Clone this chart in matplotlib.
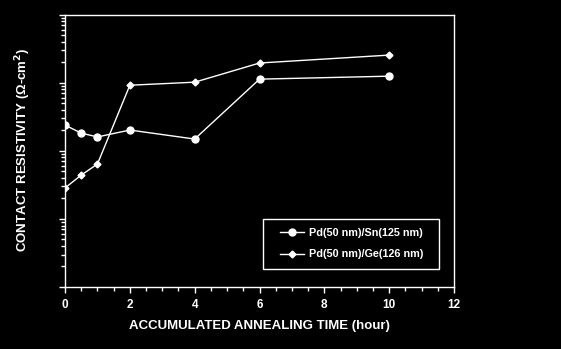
import matplotlib
matplotlib.use("Agg")
import matplotlib.pyplot as plt
from matplotlib.patches import Rectangle
from matplotlib.ticker import MultipleLocator, LogLocator, NullFormatter

plt.rcParams['font.family'] = ['Liberation Sans', 'DejaVu Sans']
plt.rcParams['font.weight'] = 'bold'

# annealing time (hour) and contact resistivity (ohm-cm^2)
hours = [0, 0.5, 1, 2, 4, 6, 10]
rho_sn = [2.39e-5, 1.82e-5, 1.60e-5, 2.02e-5, 1.49e-5, 1.13e-4, 1.25e-4]
rho_ge = [2.85e-6, 4.4e-6, 6.4e-6, 9.2e-5, 1.02e-4, 1.95e-4, 2.55e-4]
xticks = [0, 2, 4, 6, 8, 10, 12]

W, H = 561, 349
fig = plt.figure(figsize=(5.61, 3.49), dpi=100, facecolor='black')
ax = fig.add_axes([0.1159, 0.1777, 0.6934, 0.7802], facecolor='black')

ax.plot(hours, rho_sn, color='white', lw=1, marker='o', ms=5,
        mfc='white', mec='white', label='Pd(50 nm)/Sn(125 nm)')
ax.plot(hours, rho_ge, color='white', lw=1, marker='D', ms=3.5,
        mfc='white', mec='white', label='Pd(50 nm)/Ge(126 nm)')

ax.set_yscale('log')
ax.set_ylim(1e-7, 1e-3)
ax.set_xlim(0, 12)
ax.set_xticks(xticks)
ax.xaxis.set_minor_locator(MultipleLocator(0.5))
ax.yaxis.set_major_locator(LogLocator(base=10, numticks=10))
ax.yaxis.set_minor_locator(LogLocator(base=10, subs=range(2, 10), numticks=20))
ax.yaxis.set_major_formatter(NullFormatter())
ax.yaxis.set_minor_formatter(NullFormatter())

for s in ax.spines.values():
    s.set_color('white')
    s.set_linewidth(1)
ax.tick_params(which='both', colors='white', direction='out', width=1)
ax.tick_params(which='major', length=4, labelsize=8.5, pad=5)
ax.tick_params(which='minor', length=3)
for lbl in ax.get_xticklabels():
    lbl.set_fontweight('bold')

ax.set_xlabel('ACCUMULATED ANNEALING TIME (hour)', color='white',
              fontsize=9.5, fontweight='bold', labelpad=6)
fig.text(0.042, 0.57, 'CONTACT RESISTIVITY (\u03a9-cm$^{\\mathbf{2}}$)', color='white',
         fontsize=9.5, fontweight='bold', rotation=90, ha='center', va='center')

# legend box drawn separately so the padding matches the original
fig.patches.append(Rectangle((263 / W, 1 - 269 / H), 176 / W, 50 / H,
                             transform=fig.transFigure, fill=False,
                             edgecolor='white', lw=1))
leg = ax.legend(loc='upper left', bbox_to_anchor=(280 / W, 1 - 228 / H),
                bbox_transform=fig.transFigure, frameon=False,
                fontsize=7.8, labelcolor='white', handlelength=2.2,
                handletextpad=0.45, borderpad=0, labelspacing=1.05,
                borderaxespad=0)
for t in leg.get_texts():
    t.set_fontweight('bold')

fig.savefig('out.png', dpi=100, facecolor='black')
